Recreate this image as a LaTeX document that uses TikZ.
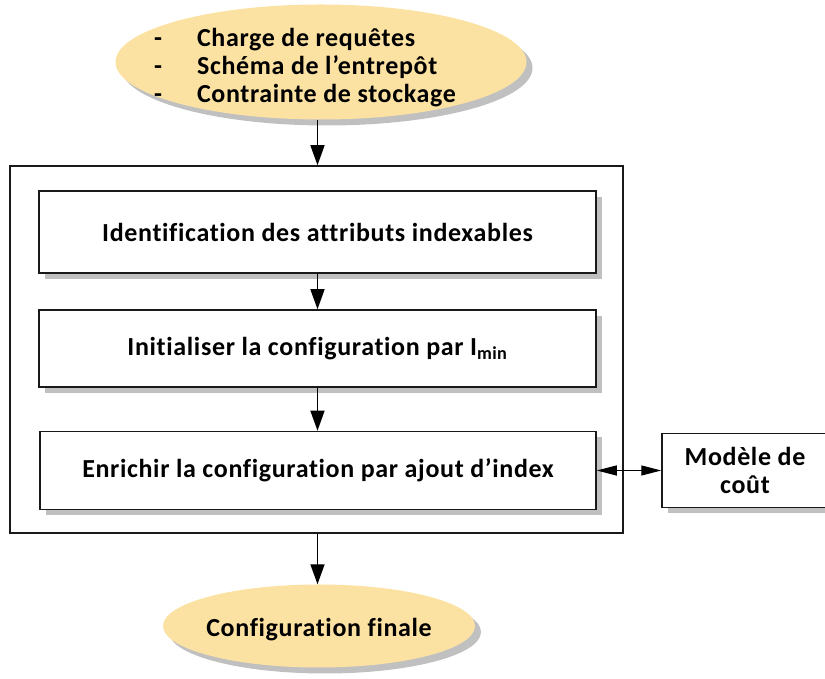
\documentclass[tikz,border=0pt]{standalone}
\usepackage{fontspec}
\setmainfont{Carlito}[Ligatures=NoCommon, LetterSpace=2.5]
\usetikzlibrary{shapes.geometric,shadows,arrows.meta}
\definecolor{ovalfill}{RGB}{252,226,162}
\definecolor{shadowgray}{RGB}{192,192,192}
\begin{document}
\begin{tikzpicture}[x=1pt, y=1pt,
        every node/.style={font=\fontsize{26}{28}\selectfont\bfseries},
        every label/.style={font=\fontsize{26}{28}\selectfont\bfseries, inner sep=0pt},
        oval/.style={ellipse, fill=ovalfill, inner sep=0pt,
            drop shadow={shadow xshift=6pt, shadow yshift=-6pt, fill=shadowgray, opacity=1}},
        stepbox/.style={rectangle, draw=black!90, line width=1.5pt, fill=white, inner sep=0pt,
            drop shadow={shadow xshift=6pt, shadow yshift=-6pt, fill=shadowgray, opacity=1}},
        arr/.style={line width=1.4pt, -{Triangle[length=20pt, width=14pt]}}]
        \useasboundingbox (0,0) rectangle (825,679);
        
        \node[oval, minimum width=411, minimum height=115,
            label={[xshift=-16pt, yshift=-7pt]center:{\begin{tabular}{@{}l@{\hspace{35pt}}l@{}}
                -&Charge de requêtes\\[0pt]
                -&Schéma de l’entrepôt\\[0pt]
                -&Contrainte de stockage
            \end{tabular}}}] (req) at (321,617) {};
        
        \node[rectangle, draw=black!90, line width=1.5pt, minimum width=613, minimum height=367] (cont) at (316.5,329.5) {};
        
        \node[stepbox, minimum width=557, minimum height=82] (ident) at (317.5,447) {Identification des attributs indexables};
        \node[stepbox, minimum width=557, minimum height=77] (init) at (317.5,330.5) {Initialiser la configuration par I\textsubscript{min}};
        \node[stepbox, minimum width=556, minimum height=78] (enrich) at (318,208.5) {Enrichir la configuration par ajout d’index};
        \node[stepbox, minimum width=166, minimum height=74, align=center] (cost) at (745,208.5) {Modèle de\\coût};
        
        \node[oval, minimum width=312, minimum height=83,
            label={[yshift=-4pt]center:Configuration finale}] (final) at (319,53) {};
        
        \draw[arr] (ident.south |- req.south) -- (ident.south |- cont.north);
        \draw[arr] (ident.south) -- (init.north -| ident.south);
        \draw[arr] (init.south -| ident.south) -- (enrich.north -| ident.south);
        \draw[arr] (ident.south |- cont.south) -- (ident.south |- final.north);
        \draw[line width=1.2pt, {Triangle[length=20pt, width=10pt]}-{Triangle[length=20pt, width=10pt]}] (enrich.east) -- (cost.west);
        \end{tikzpicture}
\end{document}
